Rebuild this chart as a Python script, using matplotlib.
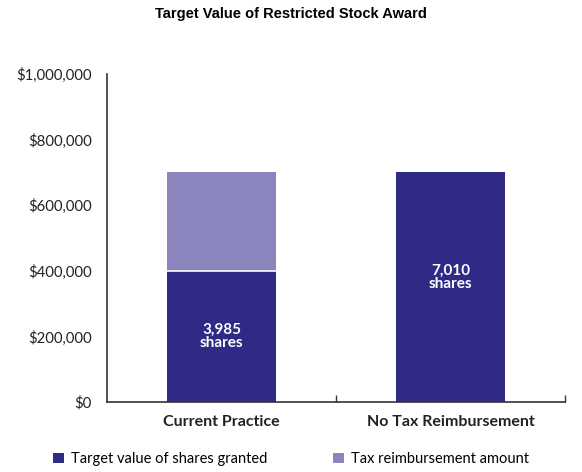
import matplotlib
matplotlib.use("Agg")
import matplotlib.pyplot as plt
from matplotlib.ticker import FuncFormatter, FixedLocator

categories = ["Current Practice", "No Tax Reimbursement"]
target_value = [400000, 700000]
tax_reimbursement = [300000, 0]
share_labels = ["3,985\nshares", "7,010\nshares"]
label_y = [200000, 380000]
yticks = [0, 200000, 400000, 600000, 800000, 1000000]

dark = "#2f2a85"
light = "#8b85bd"

plt.rcParams['font.family'] = ['Lato', 'DejaVu Sans']

fig = plt.figure(figsize=(5.82, 4.72), dpi=100)
ax = fig.add_axes([107/582, 1-402/472, (565-107)/582, (402-74)/472])

x = list(range(len(categories)))
w = 0.475
ax.bar(x, target_value, width=w, color=dark, label="Target value of shares granted", zorder=2)
ax.bar(x, tax_reimbursement, width=w, bottom=target_value, color=light,
       linewidth=0, label="Tax reimbursement amount", zorder=2)
ax.hlines(target_value[0], -w/2, w/2, color="white", linewidth=1.2, zorder=3)

for xi, lab, yy in zip(x, share_labels, label_y):
    ax.text(xi, yy, lab, ha="center", va="center", color="white",
            fontsize=11, fontweight="bold", linespacing=0.85, zorder=4)

ax.set_xlim(-0.5, 1.5)
ax.set_ylim(0, 1000000)
ax.set_yticks(yticks)
ax.yaxis.set_major_formatter(FuncFormatter(lambda v, p: "${:,.0f}".format(v)))
ax.tick_params(axis="y", length=0, pad=11, labelsize=10.7, colors="#222222")
ax.set_xticks(x)
ax.set_xticklabels(categories, fontsize=11.5, fontweight="bold", color="#222222")
ax.tick_params(axis="x", length=0, pad=9)
ax.xaxis.set_minor_locator(FixedLocator([0.5, 1.5]))
ax.tick_params(axis="x", which="minor", direction="in", length=5, width=1, color="#333333")

for s in ["top", "right"]:
    ax.spines[s].set_visible(False)
for s in ["left", "bottom"]:
    ax.spines[s].set_color("#333333")
    ax.spines[s].set_linewidth(1.2)

fig.suptitle("Target Value of Restricted Stock Award", x=0.5, y=1-14/472, va="center",
             fontsize=10.5, fontweight="bold", family="Liberation Sans")

fig.legend(loc="center left", bbox_to_anchor=(53/582, 1-459/472), ncol=2, frameon=False,
           handlelength=0.75, handleheight=0.75, handletextpad=0.5, columnspacing=4.5,
           fontsize=10.5, borderaxespad=0, borderpad=0)

fig.savefig("out.png", dpi=100, facecolor="white")
